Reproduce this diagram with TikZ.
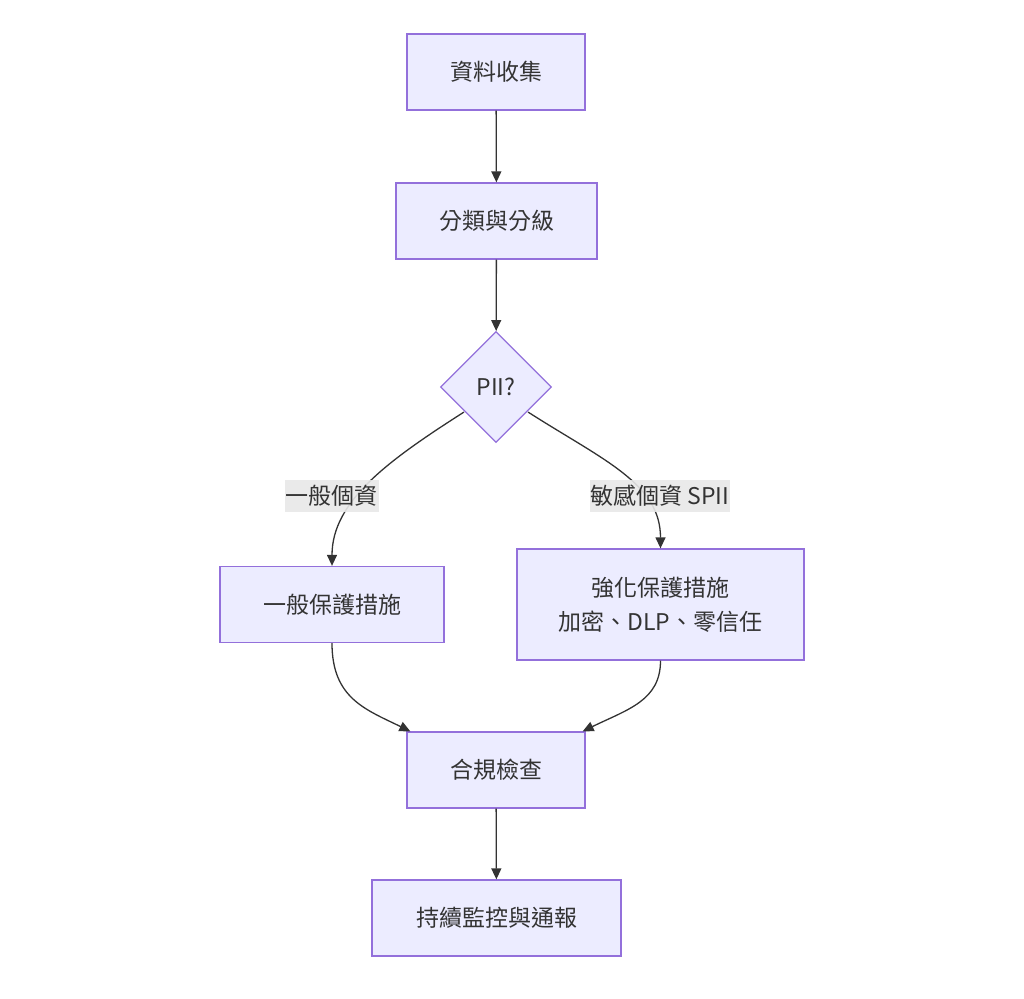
\documentclass[tikz,border=0pt]{standalone}
\usepackage{fontspec}
\setmainfont{Noto Sans CJK TC}
\usepackage{tikz}
\usetikzlibrary{positioning,calc,shapes.geometric,arrows.meta}
\definecolor{Fill}{HTML}{ECECFF}
\definecolor{Edge}{HTML}{9370DB}
\definecolor{Ink}{HTML}{333333}
\definecolor{Tag}{HTML}{E8E8E8}

\begin{document}
\begin{tikzpicture}[x=1pt,y=-1pt,
  box/.style={draw=Edge,fill=Fill,line width=1.3,inner xsep=40,minimum height=76,
    text=Ink,align=center},
  ask/.style={diamond,draw=Edge,fill=Fill,line width=1.3,inner sep=0,
    minimum width=111,minimum height=111,text=Ink},
  tag/.style={fill=Tag,fill opacity=0.9,text opacity=1,text=Ink,inner xsep=1,
    inner ysep=0,minimum height=32},
  arr/.style={draw=Ink,line width=1.3,-{Triangle[length=11,width=10]}},
  every node/.style={font=\fontsize{23}{34}\selectfont}]
\useasboundingbox (0,0) rectangle (1024,998);
\node[box,minimum width=178] (col) at (496,72) {資料收集};
\node[box,minimum width=201] (cls) at (496.5,221) {分類與分級};
\node[ask] (pii) at (496,387) {PII?};
\node[box,minimum width=224] (gen) at (332,604.5) {一般保護措施};
\node[box,minimum width=287,minimum height=111] (sen) at (660.5,604.5)
 {強化保護措施\\加密、DLP、零信任};
\node[box,minimum width=178] (chk) at (496,770) {合規檢查};
\node[box,minimum width=249] (mon) at (496.5,918) {持續監控與通報};
% branch edges
\draw[arr] (col) -- (cls);
\draw[arr] (cls) -- (pii);
\draw[arr] ([shift={(-4,-3)}]pii.south west) .. controls +(-75,48) and +(0,-65) .. (gen.north);
\draw[arr] ([shift={(4,-3)}]pii.south east) .. controls +(75,48) and +(0,-65) .. (sen.north);
\node[tag] (lg) at (331.5,496) {一般個資};
\node[tag] (ls) at (660,496) {敏感個資 SPII};
\draw[arr] (gen.south) .. controls +(0,55) and +(-45,-22) .. ([xshift=4]chk.north west);
\draw[arr] (sen.south) .. controls +(0,40) and +(45,-22) .. ([xshift=-3]chk.north east);
\draw[arr] (chk) -- (mon);
\end{tikzpicture}
\end{document}
